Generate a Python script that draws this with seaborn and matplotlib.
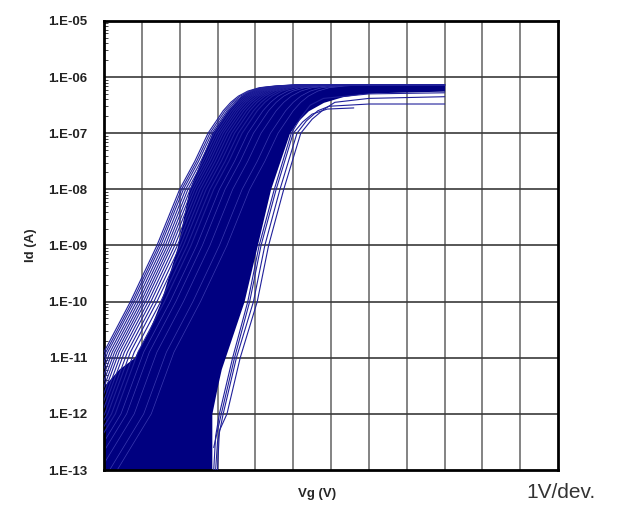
import matplotlib
matplotlib.use("Agg")
import matplotlib.pyplot as plt
import seaborn as sns
import pandas as pd

# dense band of curves: left / right edge (Vg in V) at each log10(Id) level
band_logid = [-13, -12, -11.5, -11.2, -11, -10.5, -10, -9, -8, -7, -6.8, -6.6,
              -6.45, -6.35, -6.3, -6.28, -6.25, -6.2, -6.14]
band_left_vg = [0, 0, 0, 0.4, 0.8, 1.2, 1.5, 1.95, 2.25, 2.85, 3.05, 3.25,
                3.45, 3.6, 3.7, 3.75, 3.85, 4.1, 4.8]
band_right_vg = [2.85, 2.85, 3.0, 3.1, 3.2, 3.45, 3.7, 4.05, 4.4, 4.9, 5.1, 5.4,
                 5.8, 6.3, 6.8, 7.2, 9.0, 9.0, 9.0]

# leftmost transfer curve and the offsets of the loose curves on the left side
base_vg = [-1.5, -0.6, 0.0, 0.7, 1.4, 2.0, 2.4, 2.75, 2.95, 3.15, 3.35, 3.55,
           3.8, 4.1, 4.5, 5.0, 9.0]
base_logid = [-13, -12, -10.9, -10, -9, -8, -7.5, -7.0, -6.8, -6.6, -6.45, -6.34,
              -6.25, -6.19, -6.16, -6.14, -6.14]
left_shift_v = [0.0, 0.05, 0.1, 0.16, 0.22, 0.28, 0.34, 0.4, 0.47, 0.54,
                0.62, 0.7, 0.8, 0.9]
# curves inside the band, drawn a little lighter to give the band some texture
inner_shift_v = [1.05, 1.2, 1.4, 1.65, 1.85]

# loose curves on the right side
right_vg = [
    [3.0, 3.05, 3.25, 3.6, 4.05, 4.35, 4.75, 5.2, 5.5, 5.8, 6.1, 7.0, 9.0],
    [2.95, 3.0, 3.15, 3.5, 3.95, 4.25, 4.65, 5.1, 5.35, 5.65, 5.95, 7.0, 9.0],
    [2.9, 3.1, 3.45, 3.85, 4.15, 4.55, 5.0, 5.25, 5.5, 5.9, 6.6],
    [2.9, 2.95, 3.05, 3.4, 3.8, 4.1, 4.5, 4.95, 5.2, 5.45, 5.8, 7.0, 9.0],
]
right_logid = [
    [-13, -12.3, -12, -11, -10, -9, -8, -7, -6.75, -6.58, -6.45, -6.38, -6.35],
    [-13, -12.5, -12, -11, -10, -9, -8, -7, -6.78, -6.6, -6.52, -6.48, -6.48],
    [-12.6, -12, -11, -10, -9, -8, -7, -6.8, -6.66, -6.57, -6.55],
    [-13, -12.4, -12.0, -11, -10, -9, -8, -7, -6.72, -6.5, -6.38, -6.3, -6.28],
]

ytick_labels = ["1.E-13", "1.E-12", "1.E-11", "1.E-10", "1.E-09",
                "1.E-08", "1.E-07", "1.E-06", "1.E-05"]


def shifted_rows(shifts, tag):
    out = []
    for i, s in enumerate(shifts):
        for j, (v, l) in enumerate(zip(base_vg, base_logid)):
            # every sweep stops at 9 V
            vg = 9.0 if j == len(base_vg) - 1 else min(v + s, 9.0)
            out.append({"curve": f"{tag}{i}", "Vg": vg, "Id": 10.0 ** l})
    return out


rows = shifted_rows(left_shift_v, "L")
for i, (vs, ls) in enumerate(zip(right_vg, right_logid)):
    for v, l in zip(vs, ls):
        rows.append({"curve": f"R{i}", "Vg": v, "Id": 10.0 ** l})
df = pd.DataFrame(rows)
df_inner = pd.DataFrame(shifted_rows(inner_shift_v, "I"))

sns.set_style("white")
plt.rcParams["font.family"] = ["Liberation Sans", "DejaVu Sans"]

fig = plt.figure(figsize=(6.3, 5.08), dpi=100)
ax = fig.add_axes([0.165, 0.0748, 0.721, 0.884])

navy = "#000080"
ax.fill_betweenx([10.0 ** l for l in band_logid], band_left_vg, band_right_vg,
                 color=navy, lw=0, zorder=2)
sns.lineplot(data=df_inner, x="Vg", y="Id", units="curve", estimator=None, sort=False,
             color="#3a3ab0", lw=0.5, ax=ax, zorder=2.5)
sns.lineplot(data=df, x="Vg", y="Id", units="curve", estimator=None, sort=False,
             color="#20209a", lw=0.8, ax=ax, zorder=3)

ax.set_yscale("log")
ax.set_xlim(0, 12)
ax.set_ylim(1e-13, 1e-5)

# grid
for x in range(1, 12):
    ax.axvline(x, color="#7a7a7a", lw=1.3, zorder=1)
for k in range(-12, -5):
    ax.axhline(10.0 ** k, color="#3a3a3a", lw=1.2, zorder=1)

ax.set_xticks(range(0, 13))
ax.set_xticklabels([])
ax.tick_params(axis="x", length=0)
ax.set_yticks([10.0 ** k for k in range(-13, -4)])
ax.set_yticklabels(ytick_labels, fontsize=9.5, fontweight="bold", color="#222222")
ax.tick_params(axis="y", which="major", length=0, pad=12)
ax.tick_params(axis="y", which="minor", direction="in", length=3, width=0.6, left=True)

for sp in ax.spines.values():
    sp.set_color("black")
    sp.set_linewidth(2)

ax.set_xlabel("Vg (V)", fontsize=9.5, fontweight="bold")
ax.xaxis.set_label_coords(0.47, -0.04, transform=ax.transAxes)
ax.xaxis.label.set_va("top")
ax.set_ylabel("Id (A)", fontsize=9.5, fontweight="bold", labelpad=8)

fig.text(0.835, 0.03, "1V/dev.", fontsize=15, color="#333333", va="center", ha="left")

fig.savefig("out.png", dpi=100)
